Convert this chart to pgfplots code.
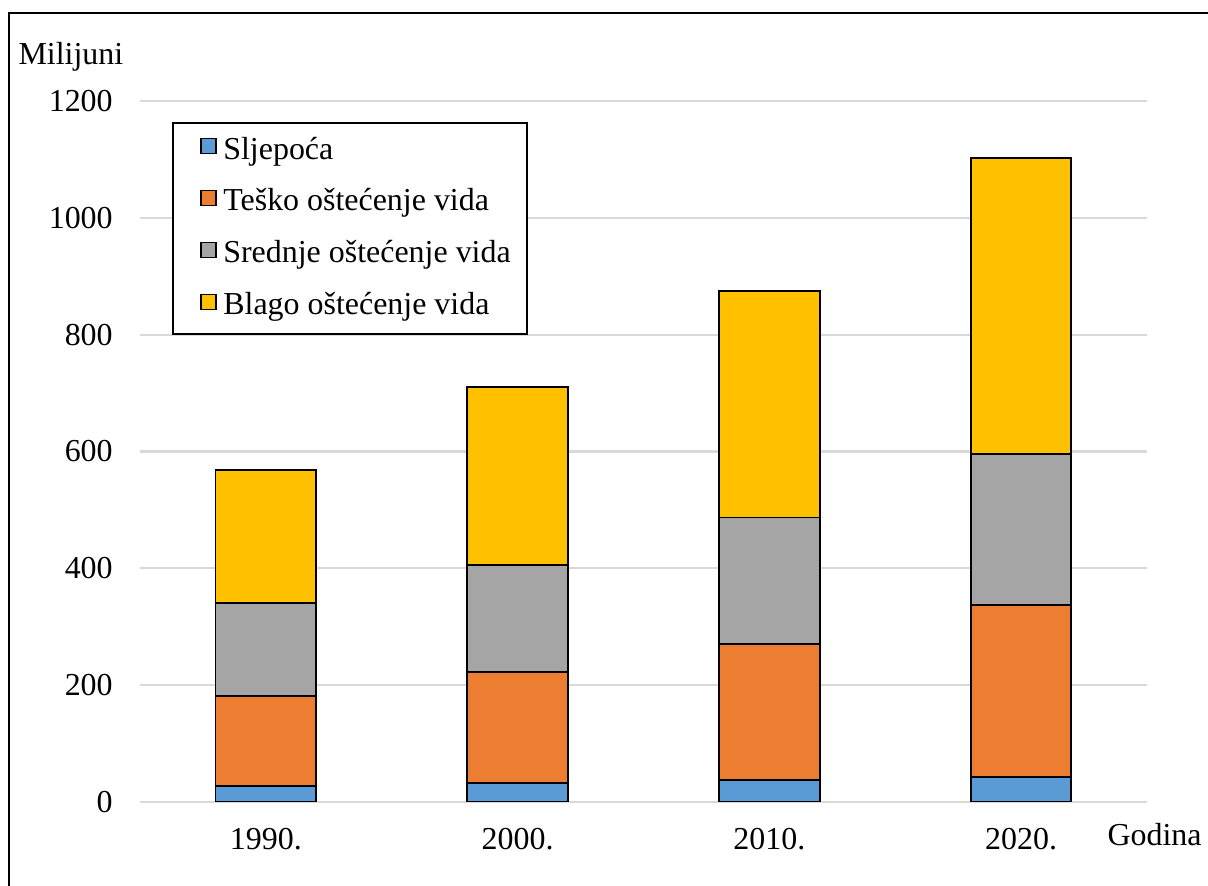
\documentclass[border=0pt]{standalone}
\usepackage{fontspec}
\setmainfont{Liberation Serif}
\usepackage{pgfplots}
\pgfplotsset{compat=1.18}
\definecolor{cblue}{HTML}{5B9BD5}
\definecolor{corange}{HTML}{ED7D31}
\definecolor{cgray}{HTML}{A5A5A5}
\definecolor{cyellow}{HTML}{FFC000}
\definecolor{cgrid}{HTML}{D9D9D9}
\newcommand{\chartfont}{\rmfamily\fontsize{11.5}{13.5}\selectfont}
\begin{document}
\chartfont
\begin{tikzpicture}[font=\chartfont]
\useasboundingbox (0pt,0pt) rectangle (434.88pt,318.96pt);
\draw[line width=1pt] (3.24pt,-5pt) -- (3.24pt,314.28pt) -- (440pt,314.28pt);
\begin{axis}[
  at={(50.4pt,30.24pt)}, anchor=south west,
  scale only axis, width=362.52pt, height=252.36pt,
  ybar stacked, bar width=0.4,
  xmin=-0.5, xmax=3.5, ymin=0, ymax=1200,
  xtick={0,1,2,3}, xticklabels={1990.,2000.,2010.,2020.},
  ytick={0,200,...,1200},
  axis line style={draw=none},
  tick style={draw=none},
  ymajorgrids, grid style={cgrid, line width=0.75pt},
  major tick length=0pt,
  tick label style={font=\chartfont},
  /pgf/number format/assume math mode=true,
  /pgf/number format/1000 sep={},
  yticklabel style={xshift=-5.8pt},
  xticklabel style={yshift=-5.5pt},
  legend cell align=left,
  legend style={at={(0.0318,0.970)}, anchor=north west, draw=black, line width=0.75pt, fill=white,
    inner xsep=6pt, inner ysep=0.6pt, font=\chartfont,
    nodes={inner sep=0pt, text height=12.35pt, text depth=6.35pt},
    /tikz/every odd column/.append style={column sep=2.4pt}},
  every axis plot/.append style={draw=black, line width=0.7pt},
]
\addplot[fill=cblue, legend image code/.code={\path (0pt,0pt); \draw[fill=cblue,draw=black,line width=0.5pt] (3.7pt,-1.0pt) rectangle (9.1pt,4.4pt);}] coordinates {(0,28) (1,33) (2,37) (3,43)};
\addplot[fill=corange, legend image code/.code={\path (0pt,0pt); \draw[fill=corange,draw=black,line width=0.5pt] (3.7pt,-1.0pt) rectangle (9.1pt,4.4pt);}] coordinates {(0,154) (1,190) (2,234) (3,295)};
\addplot[fill=cgray, legend image code/.code={\path (0pt,0pt); \draw[fill=cgray,draw=black,line width=0.5pt] (3.7pt,-1.0pt) rectangle (9.1pt,4.4pt);}] coordinates {(0,159) (1,183) (2,216) (3,258)};
\addplot[fill=cyellow, legend image code/.code={\path (0pt,0pt); \draw[fill=cyellow,draw=black,line width=0.5pt] (3.7pt,-1.0pt) rectangle (9.1pt,4.4pt);}] coordinates {(0,227) (1,305) (2,388) (3,506)};
\legend{Sljepoća, Teško oštećenje vida, Srednje oštećenje vida, Blago oštećenje vida}
\end{axis}
\node[anchor=base west, inner sep=0pt] at (6.48pt,295.56pt) {Milijuni};
\node[anchor=base west, inner sep=0pt] at (398.52pt,14.4pt) {Godina};
\end{tikzpicture}
\end{document}
